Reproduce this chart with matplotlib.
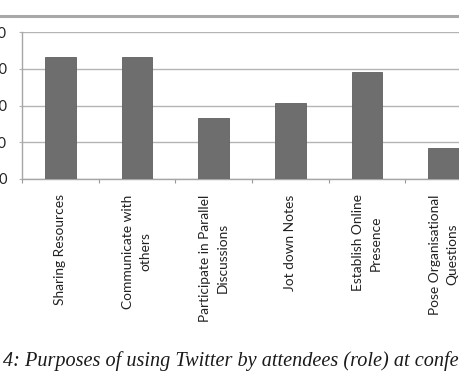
import matplotlib
matplotlib.use("Agg")
import matplotlib.pyplot as plt
from matplotlib.lines import Line2D

categories = ["Sharing Resources", "Communicate with\nothers",
              "Participate in Parallel\nDiscussions", "Jot down Notes",
              "Establish Online\nPresence", "Pose Organisational\nQuestions"]
values = [33.2, 33.2, 16.5, 20.8, 29.2, 8.4]
yticks = [0, 10, 20, 30, 40]
ytick_labels = ["0", "10", "20", "30", "40"]
caption = "4: Purposes of using Twitter by attendees (role) at conferences"

W, H = 459, 383
fig = plt.figure(figsize=(W / 100, H / 100), dpi=100)
fig.patch.set_facecolor("white")

left, right, top, bottom = 22, 482, 32.3, 179
ax = fig.add_axes([left / W, 1 - bottom / H, (right - left) / W, (bottom - top) / H])

x = list(range(len(categories)))
ax.bar(x, values, width=0.4, color="#6e6e6e", edgecolor="#5f5f5f", linewidth=0.6, zorder=3)
ax.set_xlim(-0.5, len(categories) - 0.5)
ax.set_ylim(0, 40)

ax.set_yticks(yticks)
ax.set_yticklabels(ytick_labels)
ax.yaxis.grid(True, color="#b4b4b4", linewidth=1.0, zorder=0)
ax.set_axisbelow(True)

ax.set_xticks([i - 0.5 for i in range(len(categories) + 1)])
ax.set_xticklabels([])
ax.set_xticks(x, minor=True)
ax.set_xticklabels(categories, minor=True, rotation=90, ha="center", va="top",
                   multialignment="center", family="Lato", fontsize=9.9,
                   linespacing=1.55, color="#222222")
ax.tick_params(axis="x", which="major", length=3, width=0.8, color="#999999", direction="out")
ax.tick_params(axis="x", which="minor", length=0, pad=11)
ax.tick_params(axis="y", which="major", length=2.5, width=0.8, color="#b4b4b4",
               pad=8.2, labelsize=10.5, labelfontfamily="Lato", labelcolor="#222222")

for s in ["top", "right"]:
    ax.spines[s].set_visible(False)
for s in ["left", "bottom"]:
    ax.spines[s].set_color("#a6a6a6")
    ax.spines[s].set_linewidth(1.0)

fig.add_artist(Line2D([0, 1], [1 - 15.5 / H, 1 - 15.5 / H], transform=fig.transFigure,
                      color="#a8a8a8", linewidth=2.2))

fig.text(3 / W, 1 - 366 / H, caption, family="Liberation Serif", style="italic",
         fontsize=14.6, ha="left", va="baseline", color="#1a1a1a")

fig.savefig("out.png", dpi=100)
